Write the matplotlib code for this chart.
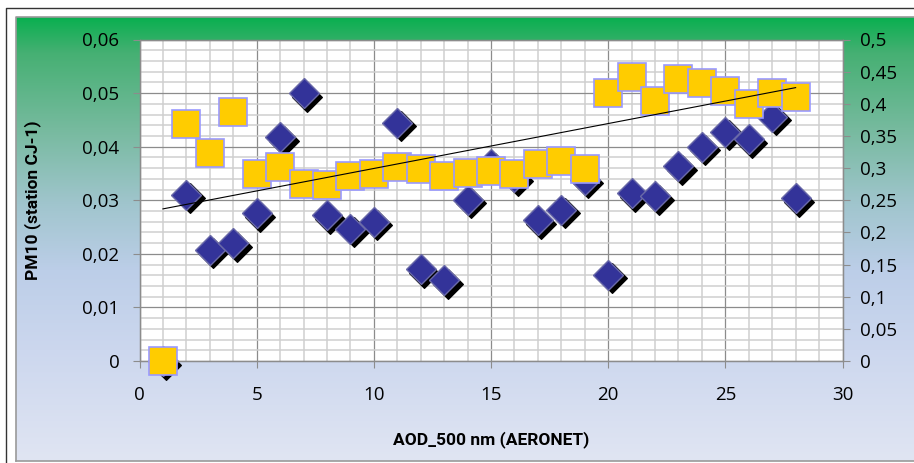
import matplotlib
matplotlib.use("Agg")
import matplotlib.pyplot as plt
import matplotlib.transforms as mtransforms
from matplotlib.colors import LinearSegmentedColormap
import numpy as np

# Colours
diamond_blue  = "#333399"
diamond_edge  = "#6a6aa8"
square_yellow = "#ffcc00"
square_edge   = "#9999ff"
grid_major    = "#8c8c8c"
grid_minor    = "#cfcfcf"

# Day index (x axis)
days = list(range(1, 29))

# PM10 at station CJ-1 (left axis)
pm10 = [0.0, 0.0310, 0.0208, 0.0220, 0.0276, 0.0418, 0.0500, 0.0272,
        0.0247, 0.0260, 0.0445, 0.0171, 0.0151, 0.0301, 0.0367, 0.0343,
        0.0263, 0.0282, 0.0338, 0.0161, 0.0313, 0.0307, 0.0363, 0.0400,
        0.0428, 0.0414, 0.0456, 0.0304]

# AOD 500 nm from AERONET (right axis)
aod = [0.0, 0.368, 0.323, 0.387, 0.291, 0.301, 0.276, 0.273,
       0.288, 0.291, 0.301, 0.299, 0.288, 0.293, 0.296, 0.291,
       0.306, 0.311, 0.299, 0.417, 0.442, 0.405, 0.439, 0.432,
       0.420, 0.400, 0.417, 0.410]

x_ticks       = [0, 5, 10, 15, 20, 25, 30]
left_ticks    = [0, 0.01, 0.02, 0.03, 0.04, 0.05, 0.06]
left_labels   = ["0", "0,01", "0,02", "0,03", "0,04", "0,05", "0,06"]
right_ticks   = [0, 0.05, 0.1, 0.15, 0.2, 0.25, 0.3, 0.35, 0.4, 0.45, 0.5]
right_labels  = ["0", "0,05", "0,1", "0,15", "0,2", "0,25", "0,3",
                 "0,35", "0,4", "0,45", "0,5"]

W, H = 914, 463


def px_axes(left, top, right, bottom):
    ''' Convert a pixel box (origin top-left) into figure fractions. '''
    return [left / W, 1 - bottom / H, (right - left) / W, (bottom - top) / H]


def makeplots() -> None:
    fig = plt.figure(figsize=(W / 100, H / 100), dpi=100)
    fig.patch.set_facecolor("white")

    ##############
    # Background #
    ##############

    bg = fig.add_axes([0, 0, 1, 1])
    bg.set_xlim(0, W)
    bg.set_ylim(H, 0)
    bg.axis("off")

    grad = LinearSegmentedColormap.from_list(
        "panel",
        [(0.00, (10/255, 175/255, 80/255)),
         (0.08, (70/255, 176/255, 115/255)),
         (0.25, (118/255, 186/255, 158/255)),
         (0.42, (160/255, 197/255, 205/255)),
         (0.57, (188/255, 206/255, 232/255)),
         (0.75, (204/255, 215/255, 238/255)),
         (1.00, (224/255, 229/255, 243/255))])
    bg.imshow(np.linspace(0, 1, 256).reshape(-1, 1),
              cmap=grad, aspect="auto",
              extent=[16, W + 2, 461, 17], zorder=1)
    # inner panel border and outer frame
    bg.plot([16, 16, W + 2], [461, 17, 17], color="#9a9a9a", lw=1.2, zorder=2)
    bg.plot([16, W + 2], [461, 461], color="#9a9a9a", lw=1.2, zorder=2)
    bg.plot([6, 6, W + 2], [H + 2, 8, 8], color="#333333", lw=1.0, zorder=2)

    #############
    # Main axes #
    #############

    ax = fig.add_axes(px_axes(139.5, 39.5, 842.5, 361))
    ax.set_facecolor("white")
    ax.set_xlim(0, 30)
    ax.set_ylim(0, 0.06)
    ax.set_axisbelow(True)

    ax.set_xticks(x_ticks)
    ax.set_xticks(np.arange(0, 31, 1), minor=True)
    ax.set_yticks(left_ticks)
    ax.set_yticklabels(left_labels)
    ax.set_yticks(np.arange(0, 0.0601, 0.002), minor=True)

    ax.grid(which="minor", color=grid_minor, lw=1.1)
    ax.grid(which="major", color=grid_major, lw=0.9)

    for side in ["left", "bottom", "top", "right"]:
        ax.spines[side].set_color(grid_major)
        ax.spines[side].set_linewidth(0.9)

    tick_font = {"family": "Open Sans", "size": 13.5}
    ax.tick_params(axis="both", which="major", direction="out", length=5,
                   color=grid_major, labelcolor="black")
    ax.tick_params(axis="y", which="major", pad=9.5)
    ax.tick_params(axis="x", which="major", pad=13)
    ax.tick_params(which="minor", length=0)
    for lab in ax.get_xticklabels() + ax.get_yticklabels():
        lab.set_fontfamily(tick_font["family"])
        lab.set_fontsize(tick_font["size"])

    # PM10 diamonds with a hard drop shadow
    shadow = mtransforms.offset_copy(ax.transData, fig=fig,
                                     x=3.5, y=-3.5, units="dots")
    ax.plot(days, pm10, ls="none", marker="D", ms=14.8,
            mfc="black", mec="black", mew=0.8,
            transform=shadow, zorder=3, clip_on=False)
    ax.plot(days, pm10, ls="none", marker="D", ms=14.8,
            mfc=diamond_blue, mec=diamond_edge, mew=1.0,
            zorder=4, clip_on=False)

    label_font = ["Roboto", "DejaVu Sans"]
    ax.set_xlabel("AOD_500 nm (AERONET)", family=label_font,
                  fontsize=12.5, fontweight="bold")
    ax.xaxis.set_label_coords(0.5, (361 - 440) / 321.5)
    ax.xaxis.label.set_va("center")
    ax.set_ylabel("PM10 (station CJ-1)", family=label_font,
                  fontsize=12.5, fontweight="bold")
    ax.yaxis.set_label_coords((33 - 139.5) / 703, 0.5)
    ax.yaxis.label.set_va("center")

    ##############
    # Right axis #
    ##############

    ax2 = ax.twinx()
    ax2.set_ylim(0, 0.5)
    ax2.set_yticks(right_ticks)
    ax2.set_yticklabels(right_labels)
    ax2.tick_params(axis="y", direction="out", length=5, color=grid_major,
                    pad=7.5)
    for lab in ax2.get_yticklabels():
        lab.set_fontfamily(tick_font["family"])
        lab.set_fontsize(tick_font["size"])
    for side in ["left", "bottom", "top", "right"]:
        ax2.spines[side].set_color(grid_major)
        ax2.spines[side].set_linewidth(0.9)

    ax2.plot(days, aod, ls="none", marker="s", ms=19.8,
             mfc=square_yellow, mec=square_edge, mew=1.2,
             zorder=3, clip_on=False)

    # Linear trend of the AOD series
    slope, icept = np.polyfit(days, aod, 1)
    tx = np.array([days[0], days[-1]])
    ax2.plot(tx, slope * tx + icept, color="black", lw=0.8, zorder=5)

    plt.savefig("out.png", dpi=100)


if __name__ == "__main__":
    makeplots()
